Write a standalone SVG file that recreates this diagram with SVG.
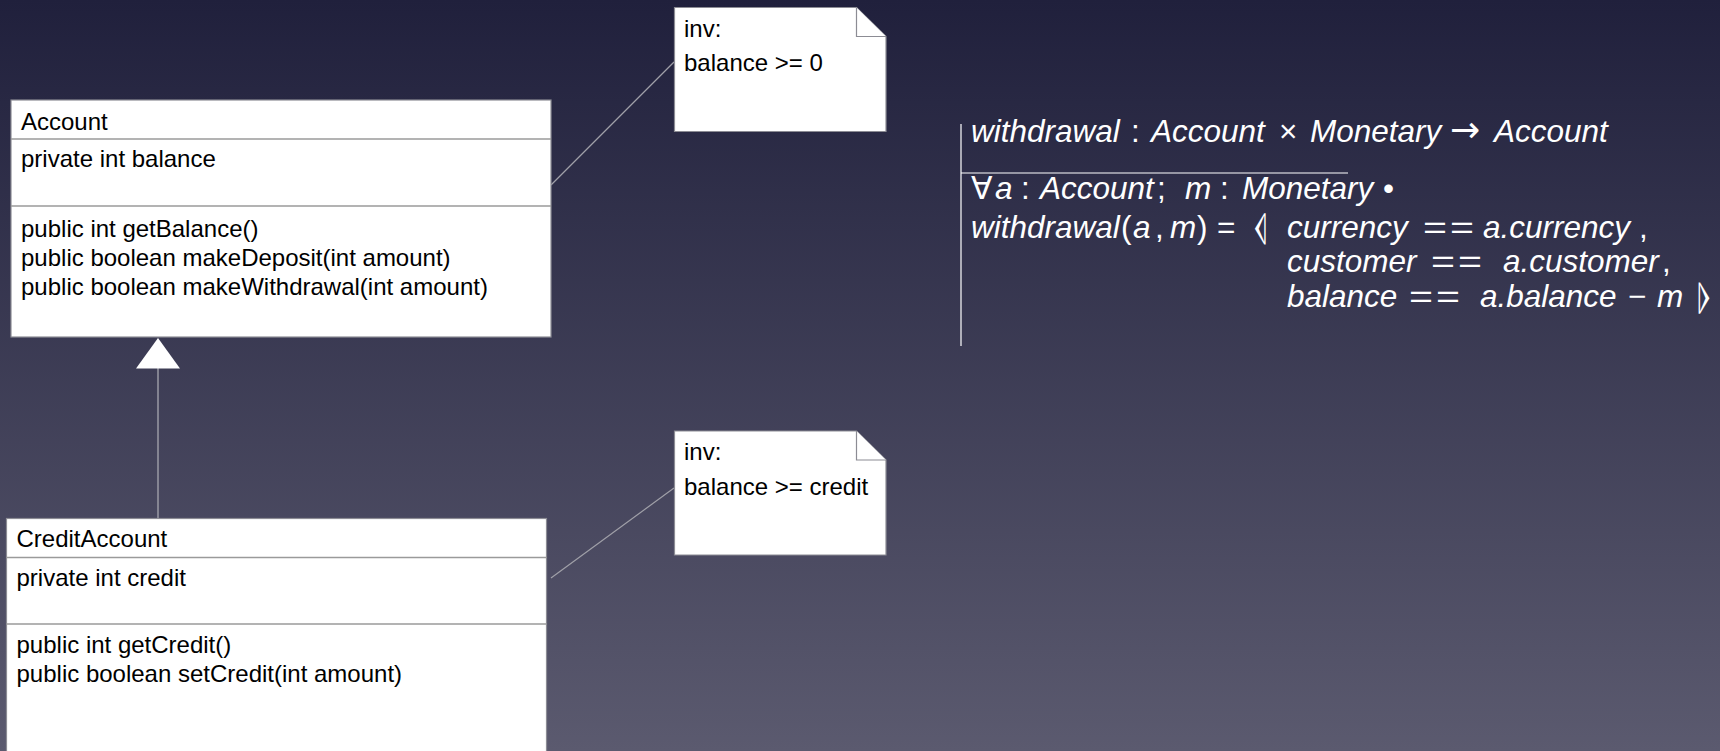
<svg xmlns="http://www.w3.org/2000/svg" width="1720" height="751" viewBox="0 0 1720 751">
  <defs>
    <linearGradient id="bg" x1="0" y1="0" x2="0" y2="1">
      <stop offset="0" stop-color="#20203c"/>
      <stop offset="1" stop-color="#5b5a6f"/>
    </linearGradient>
    <style>
      .box { fill: #ffffff; stroke: #8c8c94; stroke-width: 1.2; }
      .div { stroke: #9a9a9a; stroke-width: 1.5; }
      .uml { font-family: "Liberation Sans", Arial, sans-serif; font-size: 24px; fill: #000000; }
      .link { stroke: #a0a0a8; stroke-width: 1.2; fill: none; }
      .gen { stroke: #9a9aa4; stroke-width: 1.5; fill: none; }
      .math { font-family: "Liberation Sans", Arial, "DejaVu Sans", sans-serif; font-size: 31.5px; fill: #ffffff; }
      .it { font-style: italic; }
      .sym { font-family: "DejaVu Sans", "Liberation Sans", sans-serif; font-size: 36px; }
      .arrow { font-family: "DejaVu Sans", sans-serif; font-size: 36px; }
      .rule { stroke: #ffffff; stroke-width: 1.2; }
    </style>
  </defs>

  <rect x="0" y="0" width="1720" height="751" fill="url(#bg)"/>

  <!-- connectors: note anchors and generalization -->
  <g id="connectors">
    <line class="link" x1="551" y1="185" x2="674" y2="62"/>
    <line class="link" x1="551" y1="578" x2="674" y2="488"/>
    <line class="gen" x1="158" y1="368" x2="158" y2="518.5"/>
    <polygon points="158,338 136,368.5 180,368.5" fill="#ffffff"/>
  </g>

  <!-- class Account -->
  <g id="node-account">
    <rect class="box" x="11" y="100" width="540" height="237"/>
    <line class="div" x1="11" y1="139" x2="551" y2="139"/>
    <line class="div" x1="11" y1="206" x2="551" y2="206"/>
    <text class="uml" x="21" y="130">Account</text>
    <text class="uml" x="21" y="167">private int balance</text>
    <text class="uml" x="21" y="237">public int getBalance()</text>
    <text class="uml" x="21" y="266">public boolean makeDeposit(int amount)</text>
    <text class="uml" x="21" y="295">public boolean makeWithdrawal(int amount)</text>
  </g>

  <!-- class CreditAccount -->
  <g id="node-credit-account">
    <rect class="box" x="6.5" y="518.5" width="540" height="250"/>
    <line class="div" x1="6.5" y1="557.5" x2="546.5" y2="557.5"/>
    <line class="div" x1="6.5" y1="624" x2="546.5" y2="624"/>
    <text class="uml" x="16.5" y="547">CreditAccount</text>
    <text class="uml" x="16.5" y="586">private int credit</text>
    <text class="uml" x="16.5" y="653">public int getCredit()</text>
    <text class="uml" x="16.5" y="682">public boolean setCredit(int amount)</text>
  </g>

  <!-- invariant note for Account -->
  <g id="note-balance">
    <path class="box" d="M674.5,7.5 H856.5 L886,36.5 V131.5 H674.5 Z"/>
    <path class="box" d="M856.5,7.5 V36.5 H886"/>
    <text class="uml" x="684" y="37">inv:</text>
    <text class="uml" x="684" y="71">balance &gt;= 0</text>
  </g>

  <!-- invariant note for CreditAccount -->
  <g id="note-credit">
    <path class="box" d="M674.5,431 H856.5 L886,460 V555 H674.5 Z"/>
    <path class="box" d="M856.5,431 V460 H886"/>
    <text class="uml" x="684" y="460">inv:</text>
    <text class="uml" x="684" y="495">balance &gt;= credit</text>
  </g>

  <!-- Z axiomatic definition of withdrawal -->
  <g id="formula">
    <line class="rule" x1="961" y1="124" x2="961" y2="346"/>
    <line class="rule" x1="961" y1="173" x2="1348" y2="173"/>

    <text class="math" y="142"><tspan class="it" x="971">withdrawal</tspan><tspan x="1131">:</tspan><tspan class="it" x="1151">Account</tspan><tspan x="1279">×</tspan><tspan class="it" x="1310">Monetary</tspan><tspan class="arrow" x="1450">→</tspan><tspan class="it" x="1494">Account</tspan></text>

    <text class="math" y="199"><tspan x="971">∀</tspan><tspan class="it" x="995">a</tspan><tspan x="1021">:</tspan><tspan class="it" x="1040">Account</tspan><tspan x="1157">;</tspan><tspan class="it" x="1185">m</tspan><tspan x="1220">:</tspan><tspan class="it" x="1242">Monetary</tspan><tspan x="1383">•</tspan></text>

    <text class="math" y="238"><tspan class="it" x="971">withdrawal</tspan><tspan x="1121">(</tspan><tspan class="it" x="1133">a</tspan><tspan x="1155">,</tspan><tspan class="it" x="1170">m</tspan><tspan x="1197">)</tspan><tspan x="1217">=</tspan><tspan class="sym" x="1254">⦉</tspan><tspan class="it" x="1287">currency</tspan><tspan class="it" x="1483">a.currency</tspan><tspan x="1639">,</tspan></text>
    <text class="math" x="1423" y="238" textLength="24" lengthAdjust="spacingAndGlyphs">=</text>
    <text class="math" x="1450" y="238" textLength="24" lengthAdjust="spacingAndGlyphs">=</text>

    <text class="math" y="272"><tspan class="it" x="1287">customer</tspan><tspan class="it" x="1503">a.customer</tspan><tspan x="1662">,</tspan></text>
    <text class="math" x="1431" y="272" textLength="24" lengthAdjust="spacingAndGlyphs">=</text>
    <text class="math" x="1458" y="272" textLength="24" lengthAdjust="spacingAndGlyphs">=</text>

    <text class="math" y="307"><tspan class="it" x="1287">balance</tspan><tspan class="it" x="1480">a.balance</tspan><tspan x="1628">−</tspan><tspan class="it" x="1657">m</tspan><tspan class="sym" x="1697">⦊</tspan></text>
    <text class="math" x="1409" y="307" textLength="24" lengthAdjust="spacingAndGlyphs">=</text>
    <text class="math" x="1436" y="307" textLength="24" lengthAdjust="spacingAndGlyphs">=</text>
  </g>
</svg>
